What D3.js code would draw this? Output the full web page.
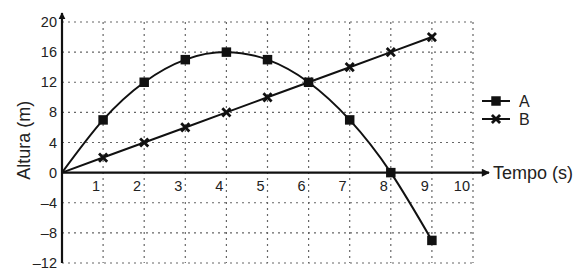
<!DOCTYPE html>
<html><head><meta charset="utf-8">
<script src="https://cdn.jsdelivr.net/npm/d3@7"></script>
<style>body{margin:0;background:#fff}svg{display:block}text{font-family:"Liberation Sans",Arial,sans-serif;fill:#222}</style>
</head><body><svg id="c" width="584" height="280"></svg>
<script>
const times = [0,1,2,3,4,5,6,7,8,9];
const seriesA = [0,7,12,15,16,15,12,7,0,-9];
const seriesB = [0,2,4,6,8,10,12,14,16,18];
const xTicks = [1,2,3,4,5,6,7,8,9,10];
const yTicks = [-12,-8,-4,0,4,8,12,16,20];
const seriesNames = ["A","B"];
const xTitle = "Tempo (s)";
const yTitle = "Altura (m)";

const svg = d3.select("#c");
const x = d3.scaleLinear().domain([0,10]).range([62,473]);
const y = d3.scaleLinear().domain([-12,20]).range([263,22]);
const ink = "#111";

// grid
const g = svg.append("g").attr("stroke","#666").attr("stroke-width",1.2).attr("stroke-dasharray","2,4");
g.selectAll(".v").data(xTicks).join("line")
 .attr("x1",d=>x(d)).attr("x2",d=>x(d)).attr("y1",y(20)).attr("y2",y(-12));
g.selectAll(".h").data(yTicks.filter(d=>d!==0)).join("line")
 .attr("x1",x(0)).attr("x2",x(10)+3).attr("y1",d=>y(d)).attr("y2",d=>y(d));

// axes
const defs = svg.append("defs");
defs.append("marker").attr("id","arr").attr("viewBox","0 0 10 10").attr("refX",9).attr("refY",5)
 .attr("markerWidth",7).attr("markerHeight",8).attr("markerUnits","userSpaceOnUse").attr("orient","auto")
 .append("path").attr("d","M0,0L10,5L0,10z").attr("fill",ink);
defs.append("marker").attr("id","arr2").attr("viewBox","0 0 10 10").attr("refX",9).attr("refY",5)
 .attr("markerWidth",16).attr("markerHeight",8).attr("markerUnits","userSpaceOnUse").attr("orient","auto")
 .append("path").attr("d","M0,0L10,5L0,10z").attr("fill",ink);
svg.append("line").attr("x1",x(0)).attr("x2",x(0)).attr("y1",y(-12)).attr("y2",13)
 .attr("stroke",ink).attr("stroke-width",2.2).attr("marker-end","url(#arr)");
svg.append("line").attr("x1",x(0)).attr("x2",489).attr("y1",y(0)).attr("y2",y(0))
 .attr("stroke",ink).attr("stroke-width",2.2).attr("marker-end","url(#arr2)");

// tick labels
svg.selectAll(".xt").data(xTicks).join("text")
 .attr("x",d=>x(d)-3).attr("y",y(0)+18).attr("text-anchor","end").attr("font-size",14.5)
 .text(d=>d);
svg.selectAll(".yt").data(yTicks).join("text")
 .attr("x",x(0)-5).attr("y",d=>y(d)+5).attr("text-anchor","end").attr("font-size",14.5)
 .text(d=>d<0?"\u2013"+Math.abs(d):d);

// titles
svg.append("text").attr("x",493).attr("y",y(0)+6).attr("font-size",18).text(xTitle);
svg.append("text").attr("transform",`translate(30,${y(4.3)}) rotate(-90)`).attr("text-anchor","middle")
 .attr("font-size",18).text(yTitle);

// lines
const dataA = times.map((t,i)=>[t,seriesA[i]]);
const dataB = times.map((t,i)=>[t,seriesB[i]]);
svg.append("path").datum(dataA).attr("fill","none").attr("stroke",ink).attr("stroke-width",2)
 .attr("d",d3.line().x(d=>x(d[0])).y(d=>y(d[1])).curve(d3.curveNatural));
svg.append("path").datum(dataB).attr("fill","none").attr("stroke",ink).attr("stroke-width",2)
 .attr("d",d3.line().x(d=>x(d[0])).y(d=>y(d[1])));

// markers
const sq = d3.symbol().type(d3.symbolSquare).size(90);
const cr = d3.symbol().type(d3.symbolX).size(45);
svg.selectAll(".ma").data(dataA.slice(1)).join("path")
 .attr("transform",d=>`translate(${x(d[0])},${y(d[1])})`).attr("d",sq).attr("fill",ink);
svg.selectAll(".mb").data(dataB.slice(1)).join("path")
 .attr("transform",d=>`translate(${x(d[0])},${y(d[1])})`).attr("d",cr).attr("fill","none")
 .attr("stroke",ink).attr("stroke-width",2.8);

// legend
const leg = [{n:seriesNames[0],sym:sq,y:101,fill:true},{n:seriesNames[1],sym:cr,y:119,fill:false}];
leg.forEach(l=>{
  svg.append("line").attr("x1",482).attr("x2",510).attr("y1",l.y).attr("y2",l.y).attr("stroke",ink).attr("stroke-width",2);
  const p = svg.append("path").attr("transform",`translate(496,${l.y})`).attr("d",l.sym);
  if(l.fill) p.attr("fill",ink); else p.attr("fill","none").attr("stroke",ink).attr("stroke-width",2.8);
  svg.append("text").attr("x",519).attr("y",l.y+6).attr("font-size",16).text(l.n);
});
</script></body></html>
